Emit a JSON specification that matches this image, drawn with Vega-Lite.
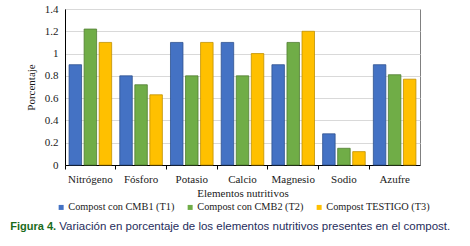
{
  "$schema": "https://vega.github.io/schema/vega-lite/v6.json",
  "width": 355,
  "height": 156,
  "padding": {"left": 10, "top": 3, "right": 0, "bottom": 0},
  "background": "white",
  "data": {
    "values": [
      {"elemento": "Nitrógeno", "serie": "Compost con CMB1 (T1)", "valor": 0.9},
      {"elemento": "Nitrógeno", "serie": "Compost con CMB2 (T2)", "valor": 1.22},
      {"elemento": "Nitrógeno", "serie": "Compost TESTIGO (T3)", "valor": 1.1},
      {"elemento": "Fósforo", "serie": "Compost con CMB1 (T1)", "valor": 0.8},
      {"elemento": "Fósforo", "serie": "Compost con CMB2 (T2)", "valor": 0.72},
      {"elemento": "Fósforo", "serie": "Compost TESTIGO (T3)", "valor": 0.63},
      {"elemento": "Potasio", "serie": "Compost con CMB1 (T1)", "valor": 1.1},
      {"elemento": "Potasio", "serie": "Compost con CMB2 (T2)", "valor": 0.8},
      {"elemento": "Potasio", "serie": "Compost TESTIGO (T3)", "valor": 1.1},
      {"elemento": "Calcio", "serie": "Compost con CMB1 (T1)", "valor": 1.1},
      {"elemento": "Calcio", "serie": "Compost con CMB2 (T2)", "valor": 0.8},
      {"elemento": "Calcio", "serie": "Compost TESTIGO (T3)", "valor": 1.0},
      {"elemento": "Magnesio", "serie": "Compost con CMB1 (T1)", "valor": 0.9},
      {"elemento": "Magnesio", "serie": "Compost con CMB2 (T2)", "valor": 1.1},
      {"elemento": "Magnesio", "serie": "Compost TESTIGO (T3)", "valor": 1.2},
      {"elemento": "Sodio", "serie": "Compost con CMB1 (T1)", "valor": 0.28},
      {"elemento": "Sodio", "serie": "Compost con CMB2 (T2)", "valor": 0.15},
      {"elemento": "Sodio", "serie": "Compost TESTIGO (T3)", "valor": 0.12},
      {"elemento": "Azufre", "serie": "Compost con CMB1 (T1)", "valor": 0.9},
      {"elemento": "Azufre", "serie": "Compost con CMB2 (T2)", "valor": 0.81},
      {"elemento": "Azufre", "serie": "Compost TESTIGO (T3)", "valor": 0.77}
    ]
  },
  "title": {
    "text": "Figura 4.",
    "subtitle": "Variación en porcentaje de los elementos nutritivos presentes en el compost.",
    "orient": "bottom",
    "anchor": "start",
    "frame": "bounds",
    "dx": -15,
    "offset": 8,
    "font": "Liberation Sans",
    "fontSize": 11,
    "fontWeight": 900,
    "color": "#1a6b1a",
    "subtitleFont": "Liberation Sans",
    "subtitleFontSize": 11.5,
    "subtitleFontWeight": "normal",
    "subtitleColor": "#1f2d5c",
    "subtitlePadding": -11.3,
    "encode": {"subtitle": {"update": {"dx": {"value": 34}}}}
  },
  "mark": {"type": "bar", "strokeWidth": 0.8},
  "encoding": {
    "x": {
      "field": "elemento",
      "type": "nominal",
      "sort": ["Nitrógeno", "Fósforo", "Potasio", "Calcio", "Magnesio", "Sodio", "Azufre"],
      "scale": {"paddingInner": 0, "paddingOuter": 0},
      "title": "Elementos nutritivos",
      "axis": {
        "labelAngle": 0,
        "bandPosition": 0,
        "ticks": true,
        "tickSize": 4,
        "tickColor": "#000000",
        "domainColor": "#000000",
        "labelPadding": 4,
        "titlePadding": 3,
        "grid": false
      }
    },
    "xOffset": {
      "field": "serie",
      "type": "nominal",
      "sort": ["Compost con CMB1 (T1)", "Compost con CMB2 (T2)", "Compost TESTIGO (T3)"],
      "scale": {"paddingInner": 0.17, "paddingOuter": 0.27}
    },
    "y": {
      "field": "valor",
      "type": "quantitative",
      "title": "Porcentaje",
      "scale": {"domain": [0, 1.4], "nice": false},
      "axis": {
        "values": [0, 0.2, 0.4, 0.6, 0.8, 1, 1.2, 1.4],
        "format": "~g",
        "ticks": false,
        "labelPadding": 7,
        "titlePadding": 8,
        "domainColor": "#000000",
        "gridColor": "#d9d9d9"
      }
    },
    "color": {
      "field": "serie",
      "type": "nominal",
      "scale": {
        "domain": ["Compost con CMB1 (T1)", "Compost con CMB2 (T2)", "Compost TESTIGO (T3)"],
        "range": ["#4472c4", "#70ad47", "#ffc000"]
      },
      "legend": {
        "orient": "bottom",
        "direction": "horizontal",
        "title": null,
        "symbolType": "square",
        "symbolSize": 25,
        "symbolStrokeWidth": 0,
        "labelOffset": 2,
        "columnPadding": 10,
        "offset": 4
      }
    },
    "stroke": {
      "field": "serie",
      "type": "nominal",
      "scale": {
        "domain": ["Compost con CMB1 (T1)", "Compost con CMB2 (T2)", "Compost TESTIGO (T3)"],
        "range": ["#2f528f", "#507e32", "#c09000"]
      },
      "legend": null
    }
  },
  "config": {
    "view": {"stroke": "#808080", "strokeWidth": 1},
    "axis": {
      "labelFont": "Liberation Serif",
      "titleFont": "Liberation Serif",
      "labelFontSize": 11,
      "titleFontSize": 11,
      "titleFontWeight": "normal",
      "labelColor": "#1a1a1a",
      "titleColor": "#1a1a1a"
    },
    "legend": {
      "labelFont": "Liberation Serif",
      "labelFontSize": 10.3,
      "labelColor": "#1a1a1a",
      "layout": {"bottom": {"anchor": "middle"}}
    }
  }
}
